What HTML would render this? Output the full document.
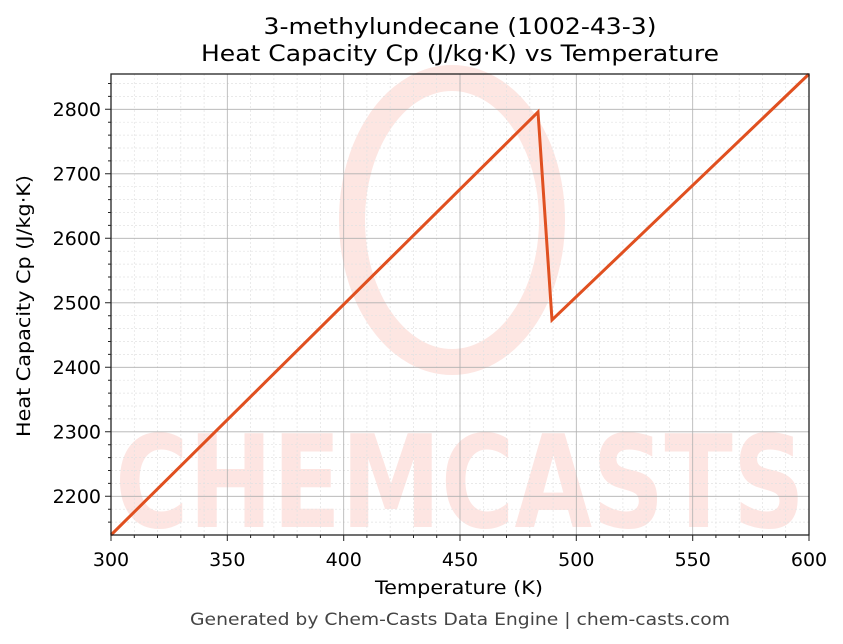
<!DOCTYPE html>
<html><head><meta charset="utf-8"><style>body{margin:0;background:#fff}svg{display:block}</style></head>
<body>
<svg width="843" height="644" xmlns="http://www.w3.org/2000/svg" font-family="DejaVu Sans, Liberation Sans, sans-serif">
<rect width="843" height="644" fill="#fff"/>
<g opacity="0.9">
<ellipse cx="452" cy="220" rx="100" ry="142" fill="none" stroke="#fde3df" stroke-width="26"/>
<text x="460" y="527" text-anchor="middle" font-size="128" font-weight="bold" fill="#fde3df" textLength="690" lengthAdjust="spacingAndGlyphs">CHEMCASTS</text>
</g>
<g stroke="#e2e2e2" stroke-width="0.7" stroke-dasharray="2,2">
<path d="M134.3 74V535M157.5 74V535M180.8 74V535M204.1 74V535M250.6 74V535M273.9 74V535M297.1 74V535M320.4 74V535M366.9 74V535M390.2 74V535M413.5 74V535M436.7 74V535M483.3 74V535M506.5 74V535M529.8 74V535M553.1 74V535M599.6 74V535M622.9 74V535M646.1 74V535M669.4 74V535M715.9 74V535M739.2 74V535M762.5 74V535M785.7 74V535"/>
<path d="M111 83.5H809M111 96.4H809M111 122.2H809M111 135.1H809M111 148H809M111 160.9H809M111 186.7H809M111 199.6H809M111 212.5H809M111 225.4H809M111 251.2H809M111 264.1H809M111 277H809M111 289.9H809M111 315.7H809M111 328.6H809M111 341.5H809M111 354.4H809M111 380.2H809M111 393.1H809M111 406H809M111 418.9H809M111 444.7H809M111 457.6H809M111 470.5H809M111 483.4H809M111 509.2H809M111 522.1H809"/>
</g>
<g stroke="#b0b0b0" stroke-width="0.8">
<path d="M227.3 74V535M343.7 74V535M460 74V535M576.3 74V535M692.7 74V535"/>
<path d="M111 109.3H809M111 173.8H809M111 238.3H809M111 302.8H809M111 367.3H809M111 431.8H809M111 496.3H809"/>
</g>
<polyline points="111,535 538,112 552,320 809,74" fill="none" stroke="#e05020" stroke-width="3" stroke-linejoin="miter"/>
<rect x="111" y="74" width="698" height="461" fill="none" stroke="#222" stroke-width="1.3"/>
<g stroke="#222" stroke-width="1">
<path d="M111 535v6M227.3 535v6M343.7 535v6M460 535v6M576.3 535v6M692.7 535v6M809 535v6"/>
<path d="M134.3 535v3M157.5 535v3M180.8 535v3M204.1 535v3M250.6 535v3M273.9 535v3M297.1 535v3M320.4 535v3M366.9 535v3M390.2 535v3M413.5 535v3M436.7 535v3M483.3 535v3M506.5 535v3M529.8 535v3M553.1 535v3M599.6 535v3M622.9 535v3M646.1 535v3M669.4 535v3M715.9 535v3M739.2 535v3M762.5 535v3M785.7 535v3"/>
<path d="M111 109.3h-6M111 173.8h-6M111 238.3h-6M111 302.8h-6M111 367.3h-6M111 431.8h-6M111 496.3h-6"/>
<path d="M111 83.5h-3M111 96.4h-3M111 122.2h-3M111 135.1h-3M111 148h-3M111 160.9h-3M111 186.7h-3M111 199.6h-3M111 212.5h-3M111 225.4h-3M111 251.2h-3M111 264.1h-3M111 277h-3M111 289.9h-3M111 315.7h-3M111 328.6h-3M111 341.5h-3M111 354.4h-3M111 380.2h-3M111 393.1h-3M111 406h-3M111 418.9h-3M111 444.7h-3M111 457.6h-3M111 470.5h-3M111 483.4h-3M111 509.2h-3M111 522.1h-3"/>
</g>
<g font-size="19" fill="#000" text-anchor="middle">
<text x="111" y="566">300</text><text x="227.3" y="566">350</text><text x="343.7" y="566">400</text><text x="460" y="566">450</text><text x="576.3" y="566">500</text><text x="692.7" y="566">550</text><text x="809" y="566">600</text>
</g>
<g font-size="19" fill="#000" text-anchor="end">
<text x="101" y="116">2800</text><text x="101" y="180.5">2700</text><text x="101" y="245">2600</text><text x="101" y="309.5">2500</text><text x="101" y="374">2400</text><text x="101" y="438.5">2300</text><text x="101" y="503">2200</text>
</g>
<text x="459" y="594" font-size="19" text-anchor="middle" textLength="168" lengthAdjust="spacingAndGlyphs">Temperature (K)</text>
<text transform="translate(30,306) rotate(-90)" font-size="19" text-anchor="middle" textLength="262" lengthAdjust="spacingAndGlyphs">Heat Capacity Cp (J/kg·K)</text>
<text x="460" y="34" font-size="22" text-anchor="middle" textLength="393" lengthAdjust="spacingAndGlyphs">3-methylundecane (1002-43-3)</text>
<text x="460" y="61" font-size="22" text-anchor="middle" textLength="518" lengthAdjust="spacingAndGlyphs">Heat Capacity Cp (J/kg·K) vs Temperature</text>
<text x="460" y="625" font-size="17" fill="#444" text-anchor="middle" textLength="540" lengthAdjust="spacingAndGlyphs">Generated by Chem-Casts Data Engine | chem-casts.com</text>
</svg>
</body></html>
